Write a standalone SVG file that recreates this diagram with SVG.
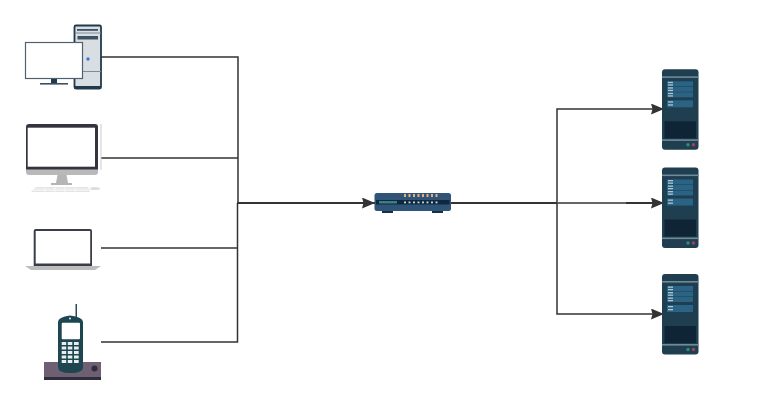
<svg xmlns="http://www.w3.org/2000/svg" width="759" height="405" viewBox="0 0 759 405">
<style>
.c{fill:none;stroke:#333;stroke-width:1.5}
.r{fill:#2a6384}
.w{fill:#a9c6d6}
</style>
<defs>
<marker id="a" markerUnits="userSpaceOnUse" markerWidth="14" markerHeight="12" refX="13" refY="5.500" orient="auto"><path d="M0 0L13 5.500L0 11L1.500 5.500Z" fill="#333"/></marker>
<g id="srv">
<rect x="0" y="0" width="36.500" height="80.500" rx="3" fill="#1f3f50"/>
<rect x="0" y="7" width="36.500" height="1.600" fill="#6f8a99"/>
<rect x="0" y="70" width="36.500" height="1.600" fill="#6f8a99"/>
<rect x="2.500" y="52" width="31.500" height="17" fill="#0f2434"/>
<rect x="5" y="12" width="26" height="5" class="r"/><rect x="5" y="17.500" width="26" height="5" class="r"/><rect x="5" y="23" width="26" height="5" class="r"/><rect x="5" y="31" width="26" height="7" class="r"/>
<rect x="6" y="12.500" width="5" height="1.300" class="w"/><rect x="6" y="15" width="5" height="1.300" class="w"/>
<rect x="6" y="18" width="5" height="1.300" class="w"/><rect x="6" y="20.500" width="5" height="1.300" class="w"/>
<rect x="6" y="23.500" width="5" height="1.300" class="w"/><rect x="6" y="26" width="5" height="1.300" class="w"/>
<rect x="6" y="32" width="5" height="1.300" class="w"/><rect x="6" y="35" width="5" height="1.300" class="w"/>
<circle cx="26" cy="75.500" r="1.700" fill="#2f8f6f"/><circle cx="31.500" cy="75.500" r="1.700" fill="#a8405c"/>
</g>
</defs>
<rect width="759" height="405" fill="#fff"/>
<g id="connectors">
<path class="c" d="M101 57H238V203"/>
<path class="c" d="M101 158H238"/>
<path class="c" d="M101 248H237"/>
<path class="c" d="M101 342H237.500V203"/>
<path class="c" style="stroke-width:2" d="M237 203H375" marker-end="url(#a)"/>
<path class="c" d="M451 203H557V109H664" marker-end="url(#a)"/>
<path class="c" style="stroke-width:2" d="M451 203H664" marker-end="url(#a)"/>
<path d="M557 203H626" fill="none" stroke="#666" stroke-width="2"/>
<path class="c" d="M557 203V314H664" marker-end="url(#a)"/>
</g>
<g id="desktop">
<rect x="74.500" y="25.500" width="26.500" height="63" rx="1.500" fill="#d9dee3" stroke="#1f3a4d" stroke-width="1.800"/>
<rect x="74.500" y="86" width="26.500" height="3" fill="#1f3a4d"/>
<rect x="77" y="29" width="21" height="1.800" fill="#3c5262"/>
<path d="M75 33H101M75 71.500H101" stroke="#7d8b96" stroke-width="1"/>
<rect x="77.500" y="36" width="20.500" height="3.500" fill="#3c5262"/>
<circle cx="88" cy="59" r="1.700" fill="#3b78d0"/>
<rect x="25.500" y="42.500" width="57" height="36" fill="#fff" stroke="#4f6272" stroke-width="1.200"/>
<rect x="51" y="79" width="6" height="5" fill="#1f3a4d"/>
<rect x="40" y="83" width="28" height="1.600" fill="#3c5262"/>
</g>
<g id="imac">
<path d="M101 124V170" stroke="#ccc" stroke-width="1"/>
<path d="M26 127a3 3 0 0 1 3-3h66a3 3 0 0 1 3 3v43H26Z" fill="#33343f"/>
<rect x="27.700" y="127.700" width="67.300" height="39" fill="#fff"/>
<path d="M26 169.500H98V172a3 3 0 0 1-3 3H29a3 3 0 0 1-3-3Z" fill="#b9b9b9"/>
<path d="M57.500 175H66.500L68 183H72V185H51V183H56Z" fill="#b5b5b5"/>
<path d="M36 187H88L90 192H31Z" fill="#e4e4e4"/>
<path d="M34 189H88M33 190.500H89M45 187V192M55 187V192M65 187V192M75 187V192" stroke="#fff" stroke-width=".6"/>
<ellipse cx="95" cy="188.500" rx="5" ry="1.500" fill="#ddd"/>
</g>
<g id="laptop">
<path d="M33.700 231a2 2 0 0 1 2-2H90a2 2 0 0 1 2 2v35H33.700Z" fill="#3a3d49"/>
<rect x="35.700" y="231" width="54.500" height="32.500" fill="#fff"/>
<path d="M25 266H101L95 270H31Z" fill="#bdbdbd"/>
</g>
<g id="phone">
<rect x="75.500" y="304" width="1.500" height="13" fill="#2d4a55"/>
<path d="M44 362H101V377H44Z" fill="#6e5f72"/>
<rect x="44" y="377" width="57" height="3" fill="#2f2d3d"/>
<circle cx="94.500" cy="368.500" r="3" fill="#2f2d3d"/>
<path d="M58 322Q58 317 70 315.500Q83 317 83 322V367Q83 373 70 373Q58 373 58 367Z" fill="#1e4650"/>
<rect x="61.700" y="322.700" width="18.300" height="16.500" rx="1" fill="#fff"/>
<g fill="#e6eef0">
<rect x="61.700" y="342" width="4.500" height="3"/><rect x="67.800" y="342" width="4.500" height="3"/><rect x="74" y="342" width="4.700" height="3"/>
<rect x="61.700" y="346.500" width="4.500" height="3"/><rect x="67.800" y="346.500" width="4.500" height="3"/><rect x="74" y="346.500" width="4.700" height="3"/>
<rect x="61.700" y="351" width="4.500" height="3"/><rect x="67.800" y="351" width="4.500" height="3"/><rect x="74" y="351" width="4.700" height="3"/>
<rect x="61.700" y="355.500" width="4.500" height="3"/><rect x="67.800" y="355.500" width="4.500" height="3"/><rect x="74" y="355.500" width="4.700" height="3"/>
<rect x="61.700" y="360" width="4.500" height="3"/><rect x="67.800" y="360" width="4.500" height="3"/><rect x="74" y="360" width="4.700" height="3"/>
<circle cx="70" cy="318.500" r="1"/>
</g>
</g>
<g id="switch">
<rect x="382" y="210" width="11" height="3" fill="#14314a"/><rect x="432" y="210" width="11" height="3" fill="#14314a"/>
<rect x="374.500" y="193" width="76.500" height="18" rx="2.500" fill="#2f5478"/>
<rect x="376" y="200" width="73.500" height="4.500" fill="#10283c"/>
<rect x="379" y="201" width="18" height="2.500" fill="#3b7f86"/>
<g fill="#e0b080"><rect x="404" y="194" width="2" height="3"/><rect x="408.500" y="194" width="2" height="3"/><rect x="413" y="194" width="2" height="3"/><rect x="417.500" y="194" width="2" height="3"/><rect x="422" y="194" width="2" height="3"/><rect x="426.500" y="194" width="2" height="3"/><rect x="431" y="194" width="2" height="3"/><rect x="435.500" y="194" width="2" height="3"/></g>
<g fill="#bcd6e4"><rect x="404" y="201.500" width="2" height="1.800"/><rect x="408.500" y="201.500" width="2" height="1.800"/><rect x="413" y="201.500" width="2" height="1.800"/><rect x="417.500" y="201.500" width="2" height="1.800"/><rect x="422" y="201.500" width="2" height="1.800"/><rect x="426.500" y="201.500" width="2" height="1.800"/><rect x="431" y="201.500" width="2" height="1.800"/><rect x="435.500" y="201.500" width="2" height="1.800"/></g>
</g>
<g id="server1"><use href="#srv" x="662" y="69.300"/></g>
<g id="server2"><use href="#srv" x="662" y="167.500"/></g>
<g id="server3"><use href="#srv" x="662" y="274"/></g>
</svg>
